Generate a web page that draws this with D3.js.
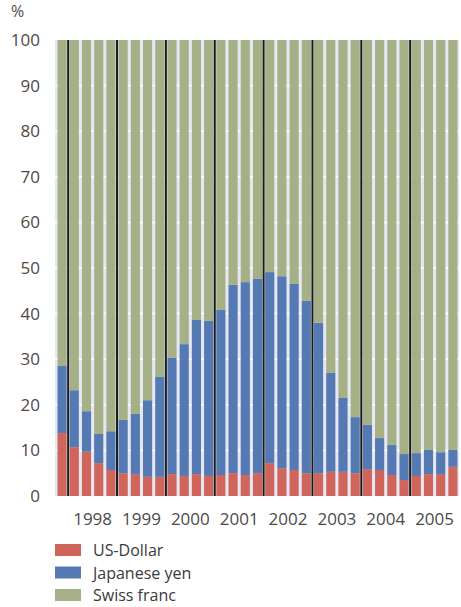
<!DOCTYPE html>
<html>
<head>
<meta charset="utf-8">
<script src="https://cdn.jsdelivr.net/npm/d3@7"></script>
<style>
  body { margin: 0; background: #fff; }
  text { font-family: "Open Sans", "Noto Sans", sans-serif; fill: #4a4a4a; }
</style>
</head>
<body>
<svg id="svg" width="461" height="607"></svg>
<script>
// quarters, 1997 Q4 .. 2005 Q4
const quarters = [];
quarters.push("1997Q4");
for (let yr = 1998; yr <= 2005; yr++) {
  for (let q = 1; q <= 4; q++) quarters.push(yr + "Q" + q);
}
const years = ["1998", "1999", "2000", "2001", "2002", "2003", "2004", "2005"];
const yTicks = [0, 10, 20, 30, 40, 50, 60, 70, 80, 90, 100];

// shares in %
const usd = [13.8, 10.7, 9.7, 7.2, 5.7, 5.0, 4.8, 4.2, 4.2, 4.8, 4.4, 4.8, 4.4, 4.6, 5.0, 4.6, 5.0,
             7.2, 6.1, 5.7, 5.0, 5.0, 5.3, 5.3, 5.0, 5.9, 5.7, 4.6, 3.5, 4.4, 4.8, 4.8, 6.4];
const jpy = [14.7, 12.5, 8.9, 6.4, 8.5, 11.7, 13.2, 16.8, 21.9, 25.5, 28.9, 33.8, 34.0, 36.2, 41.3, 42.3, 42.6,
             41.9, 42.1, 40.8, 37.8, 33.0, 21.7, 16.2, 12.3, 9.7, 7.0, 6.6, 5.7, 5.0, 5.3, 4.8, 3.7];
const chf = [71.5, 76.8, 81.4, 86.4, 85.8, 83.3, 82.0, 79.0, 73.9, 69.7, 66.7, 61.4, 61.6, 59.2, 53.7, 53.1, 52.4,
             50.9, 51.8, 53.5, 57.2, 62.0, 73.0, 78.5, 82.7, 84.4, 87.3, 88.8, 90.8, 90.6, 89.9, 90.4, 89.9];

const seriesNames = ["US-Dollar", "Japanese yen", "Swiss franc"];
const colors = ["#d0655b", "#5479b3", "#a6b087"];

const svg = d3.select("#svg");

// plot area
const pLeft = 55, pRight = 459, pTop = 40, pBottom = 496;

const x = d3.scaleBand()
            .domain(quarters)
            .range([57.5, 457.5])
            .paddingInner(0.25)
            .paddingOuter(0);
const y = d3.scaleLinear().domain([0, 100]).range([pBottom, pTop]);

svg.append("rect")
   .attr("x", pLeft)
   .attr("y", pTop)
   .attr("width", pRight - pLeft)
   .attr("height", pBottom - pTop)
   .style("fill", "#e5e8f2");

// white grid lines
svg.selectAll(".grid")
   .data(yTicks.slice(1, -1))
   .enter().append("line")
   .attr("x1", pLeft).attr("x2", pRight)
   .attr("y1", d => y(d)).attr("y2", d => y(d))
   .style("stroke", "#fff")
   .style("stroke-width", 1.5);

// stacked bars
const rows = quarters.map((q, i) => ({q: q, usd: usd[i], jpy: jpy[i], chf: chf[i]}));
const stack = d3.stack().keys(["usd", "jpy", "chf"]);
const layers = stack(rows);

svg.selectAll(".layer")
   .data(layers)
   .enter().append("g")
   .style("fill", (d, i) => colors[i])
   .selectAll("rect")
   .data(d => d)
   .enter().append("rect")
   .attr("x", d => x(d.data.q))
   .attr("width", x.bandwidth())
   .attr("y", d => y(d[1]))
   .attr("height", d => y(d[0]) - y(d[1]));

// black separators between years
const gap = x.step() - x.bandwidth();
svg.selectAll(".sep")
   .data(years)
   .enter().append("line")
   .attr("x1", d => x(d + "Q1") - gap / 2)
   .attr("x2", d => x(d + "Q1") - gap / 2)
   .attr("y1", pTop).attr("y2", pBottom)
   .style("stroke", "#1a1a1a")
   .style("stroke-width", 2);

// y axis labels
const yAxis = d3.axisLeft(y).tickValues(yTicks).tickSize(0).tickPadding(0);
const ga = svg.append("g").attr("transform", "translate(40,0)").call(yAxis);
ga.select(".domain").remove();
ga.selectAll("text")
  .style("font-family", "'Open Sans', sans-serif")
  .style("font-size", "17px")
  .style("fill", "#4a4a4a");

svg.append("text")
   .attr("x", 11).attr("y", 17)
   .style("font-size", "16px")
   .text("%");

// year labels centred under their four quarters
svg.selectAll(".year")
   .data(years)
   .enter().append("text")
   .attr("x", d => (x(d + "Q1") + x(d + "Q4") + x.bandwidth()) / 2)
   .attr("y", 525)
   .attr("text-anchor", "middle")
   .style("font-size", "17px")
   .text(d => d);

// legend
const lg = svg.selectAll(".legend")
              .data(seriesNames)
              .enter().append("g")
              .attr("transform", (d, i) => "translate(55," + (544 + i * 22.5) + ")");
lg.append("rect")
  .attr("width", 26).attr("height", 12)
  .style("fill", (d, i) => colors[i]);
lg.append("text")
  .attr("x", 38).attr("y", 12)
  .style("font-size", "16px")
  .style("fill", "#3a3a3a")
  .text(d => d);
</script>
</body>
</html>
